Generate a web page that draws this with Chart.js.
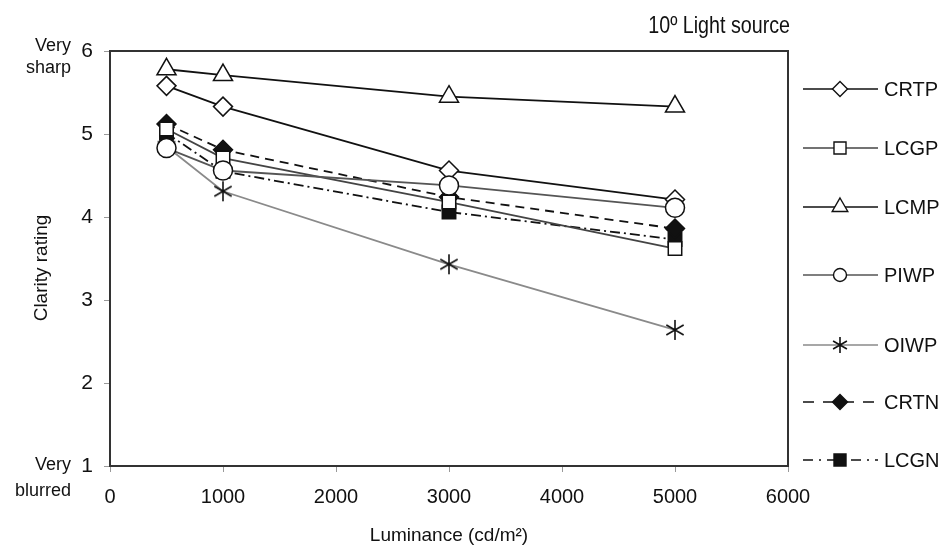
<!DOCTYPE html>
<html>
<head>
<meta charset="utf-8">
<script src="https://cdn.jsdelivr.net/npm/chart.js@4/dist/chart.umd.min.js"></script>
<style>
  html, body { margin: 0; padding: 0; background: #fff; }
  #wrap { width: 944px; height: 556px; position: relative; }
</style>
</head>
<body>
<div id="wrap"><canvas id="chart"></canvas></div>
<script>
// Luminance levels (cd/m2)
const luminance = [500, 1000, 3000, 5000];

// Clarity ratings per display type
const crtp = [5.58, 5.33, 4.56, 4.21];
const lcgp = [5.06, 4.71, 4.18, 3.62];
const lcmp = [5.78, 5.71, 5.45, 5.33];
const piwp = [4.83, 4.56, 4.38, 4.11];
const oiwp = [4.85, 4.31, 3.43, 2.64];
const crtn = [5.12, 4.81, 4.24, 3.86];
const lcgn = [5.01, 4.55, 4.06, 3.73];

const xTicks = [0, 1000, 2000, 3000, 4000, 5000, 6000];
const yTicks = [1, 2, 3, 4, 5, 6];

const FONT = '"Liberation Sans", Arial, sans-serif';

// six-armed asterisk marker for OIWP
function makeAsterisk(size) {
    const c = document.createElement('canvas');
    c.width = size; c.height = size;
    const g = c.getContext('2d');
    const r = size / 2 - 1;
    g.strokeStyle = '#111';
    g.lineWidth = 1.6;
    g.beginPath();
    for (let k = 0; k < 3; k++) {
        const a = Math.PI / 2 + k * Math.PI / 3;
        g.moveTo(size / 2 + r * Math.cos(a), size / 2 + r * Math.sin(a));
        g.lineTo(size / 2 - r * Math.cos(a), size / 2 - r * Math.sin(a));
    }
    g.stroke();
    return c;
}
const asterisk = makeAsterisk(22);
const asteriskSmall = makeAsterisk(18);

function pts(arr) {
    return arr.map((v, i) => ({ x: luminance[i], y: v }));
}

const series = [
    { label: 'CRTP', data: crtp, line: '#111', dash: [], style: 'rectRot', fill: '#fff', r: 9.5, lr: 7.5, order: 3 },
    { label: 'LCGP', data: lcgp, line: '#444', dash: [], style: 'rect', fill: '#fff', r: 9.5, lr: 8.5, order: 5 },
    { label: 'LCMP', data: lcmp, line: '#111', dash: [], style: 'triangle', fill: '#fff', r: 11, lr: 9, order: 2 },
    { label: 'PIWP', data: piwp, line: '#555', dash: [], style: 'circle', fill: '#fff', r: 9.5, lr: 6.5, order: 1 },
    { label: 'OIWP', data: oiwp, line: '#8a8a8a', dash: [], style: asterisk, fill: '#fff', r: 11, lr: 9, order: 4 },
    { label: 'CRTN', data: crtn, line: '#111', dash: [9, 6], style: 'rectRot', fill: '#111', r: 9.5, lr: 7.5, order: 6 },
    { label: 'LCGN', data: lcgn, line: '#111', dash: [10, 4, 2, 4], style: 'rect', fill: '#111', r: 9.5, lr: 8.5, order: 7 }
];

// legend rows (y in px)
const legendY = [89, 148, 207, 275, 345, 402, 460];

// draws narrow text by squeezing it horizontally
function narrowText(ctx, text, x, y, squeeze) {
    ctx.save();
    ctx.translate(x, y);
    ctx.scale(squeeze, 1);
    ctx.fillText(text, 0, 0);
    ctx.restore();
}

const decorations = {
    id: 'decorations',
    afterDatasetsDraw(chart) {
        const ctx = chart.ctx;
        const a = chart.chartArea;
        ctx.save();
        // frame around plot area
        ctx.strokeStyle = '#333';
        ctx.lineWidth = 2;
        ctx.strokeRect(a.left, a.top, a.right - a.left, a.bottom - a.top);

        // title
        ctx.fillStyle = '#111';
        ctx.textBaseline = 'middle';
        ctx.font = '24px ' + FONT;
        ctx.textAlign = 'right';
        narrowText(ctx, '10º Light source', 790, 26, 0.82);

        // axis titles
        ctx.font = '19px ' + FONT;
        ctx.textAlign = 'center';
        ctx.fillText('Luminance (cd/m²)', (a.left + a.right) / 2, 536);
        ctx.save();
        ctx.translate(42, 268);
        ctx.rotate(-Math.PI / 2);
        ctx.fillText('Clarity rating', 0, 0);
        ctx.restore();

        // end labels of the rating scale
        ctx.font = '18px ' + FONT;
        ctx.textAlign = 'right';
        ctx.fillText('Very', 71, 46);
        ctx.fillText('sharp', 71, 68);
        ctx.fillText('Very', 71, 465);
        ctx.fillText('blurred', 71, 491);

        // legend
        ctx.font = '20px ' + FONT;
        ctx.textAlign = 'left';
        series.forEach((s, i) => {
            const y = legendY[i];
            ctx.strokeStyle = s.line;
            ctx.lineWidth = 1.6;
            let dash = [];
            if (s.label === 'CRTN') dash = [11, 9];
            if (s.label === 'LCGN') dash = [10, 6, 2, 6];
            ctx.setLineDash(dash);
            ctx.beginPath();
            ctx.moveTo(803, y);
            ctx.lineTo(878, y);
            ctx.stroke();
            ctx.setLineDash([]);
            ctx.fillStyle = s.fill;
            ctx.strokeStyle = '#111';
            ctx.lineWidth = 1.4;
            Chart.helpers.drawPoint(ctx, {
                pointStyle: s.style === asterisk ? asteriskSmall : s.style,
                radius: s.lr,
                borderWidth: 1.4
            }, 840, y);
            ctx.fillStyle = '#111';
            ctx.fillText(s.label, 884, y + 1);
        });
        ctx.restore();
    }
};

const datasets = series.map(s => ({
    label: s.label,
    data: pts(s.data),
    borderColor: s.line,
    borderWidth: 1.8,
    borderDash: s.dash,
    pointStyle: s.style,
    pointRadius: s.r,
    pointBorderColor: '#111',
    pointBorderWidth: 1.5,
    pointBackgroundColor: s.fill,
    tension: 0,
    order: s.order
}));

new Chart(document.getElementById('chart'), {
    type: 'line',
    data: { datasets: datasets },
    options: {
        responsive: true,
        maintainAspectRatio: false,
        animation: false,
        layout: { padding: { left: 0, right: 156, top: 51, bottom: 0 } },
        plugins: {
            legend: { display: false },
            tooltip: { enabled: false },
            title: { display: false }
        },
        scales: {
            x: {
                type: 'linear',
                min: 0,
                max: 6000,
                afterFit: s => { s.height = 90; },
                afterBuildTicks: s => { s.ticks = xTicks.map(v => ({ value: v })); },
                grid: { drawOnChartArea: false, tickLength: 6, color: '#999' },
                border: { color: '#333', width: 2 },
                ticks: {
                    color: '#111', padding: 13, font: { family: FONT, size: 20 },
                    callback: v => String(v)
                }
            },
            y: {
                min: 1,
                max: 6,
                afterFit: s => { s.width = 110; },
                afterBuildTicks: s => { s.ticks = yTicks.map(v => ({ value: v })); },
                grid: { drawOnChartArea: false, tickLength: 6, color: '#999' },
                border: { color: '#333', width: 2 },
                ticks: { color: '#111', padding: 11, font: { family: FONT, size: 21 } }
            }
        }
    },
    plugins: [decorations]
});
</script>
</body>
</html>
